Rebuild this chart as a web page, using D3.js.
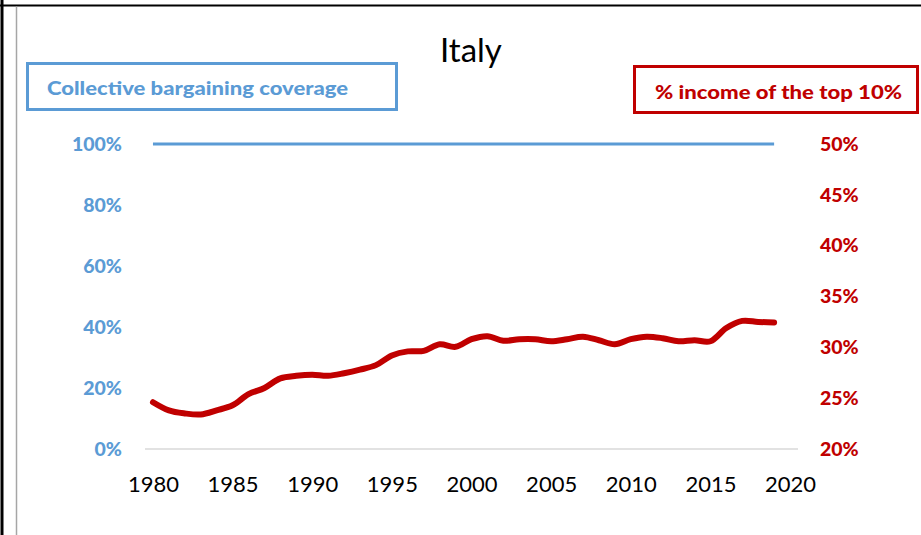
<!DOCTYPE html>
<html>
<head>
<meta charset="utf-8">
<script src="https://cdn.jsdelivr.net/npm/d3@7"></script>
<style>
  html, body { margin: 0; padding: 0; background: #fff; }
  svg { display: block; }
  text { font-family: Lato, "Open Sans", sans-serif; }
</style>
</head>
<body>
<svg id="chart" width="921" height="535"></svg>
<script>
// ---- data ----
const years = d3.range(1980, 2020);
const top10Share = [24.6, 23.8, 23.5, 23.4, 23.8, 24.3, 25.4, 26.0, 26.95, 27.2,
                     27.3, 27.2, 27.45, 27.8, 28.25, 29.2, 29.6, 29.65, 30.3, 30.05,
                     30.8, 31.1, 30.65, 30.8, 30.8, 30.6, 30.8, 31.05, 30.7, 30.3,
                     30.8, 31.05, 30.9, 30.6, 30.7, 30.6, 31.9, 32.6, 32.5, 32.45];
const coverage = years.map(() => 100);
const xTickYears = [1980, 1985, 1990, 1995, 2000, 2005, 2010, 2015, 2020];
const leftTicks = [0, 20, 40, 60, 80, 100];
const rightTicks = [20, 25, 30, 35, 40, 45, 50];

const title = "Italy";
const leftLegend = "Collective bargaining coverage";
const rightLegend = "% income of the top 10%";

const BLUE = "#5B9BD5";
const RED = "#C00000";

const svg = d3.select("#chart");

// frame lines
svg.append("line").attr("x1", 0).attr("x2", 921).attr("y1", 5.5).attr("y2", 5.5)
  .attr("stroke", "#000").attr("stroke-width", 2);
svg.append("line").attr("x1", 2).attr("x2", 2).attr("y1", 0).attr("y2", 535)
  .attr("stroke", "#000").attr("stroke-width", 3);
svg.append("line").attr("x1", 16.5).attr("x2", 16.5).attr("y1", 6.5).attr("y2", 535)
  .attr("stroke", "#a6a6a6").attr("stroke-width", 1.5);

// scales
const x = d3.scaleLinear().domain([1979.5, 2020.5]).range([145, 798]);
const yL = d3.scaleLinear().domain([0, 100]).range([449, 144]);
const yR = d3.scaleLinear().domain([20, 50]).range([449, 144]);

// baseline gridline
svg.append("line").attr("x1", x(1979.5)).attr("x2", x(2020.5))
  .attr("y1", yL(0)).attr("y2", yL(0))
  .attr("stroke", "#d9d9d9").attr("stroke-width", 1.5);

// axes
const xAxis = svg.append("g").attr("transform", `translate(0,${yL(0)})`)
  .call(d3.axisBottom(x).tickValues(xTickYears).tickFormat(d3.format("d")).tickSize(0).tickPadding(27));
xAxis.select(".domain").remove();
xAxis.selectAll("text").attr("font-size", 22).attr("fill", "#000")
  .style("font-family", "Lato, sans-serif");

const lAxis = svg.append("g").attr("transform", `translate(122,0)`)
  .call(d3.axisLeft(yL).tickValues(leftTicks).tickFormat(d => d + "%").tickSize(0).tickPadding(0));
lAxis.select(".domain").remove();
lAxis.selectAll("text").attr("font-size", 19.5).attr("font-weight", "900").attr("fill", BLUE);

const rAxis = svg.append("g").attr("transform", `translate(820,0)`)
  .call(d3.axisRight(yR).tickValues(rightTicks).tickFormat(d => d + "%").tickSize(0).tickPadding(0));
rAxis.select(".domain").remove();
rAxis.selectAll("text").attr("font-size", 19.5).attr("font-weight", "900").attr("fill", RED);

// lines
svg.append("path").datum(coverage.map((v, i) => [years[i], v]))
  .attr("fill", "none").attr("stroke", BLUE).attr("stroke-width", 3)
  .attr("d", d3.line().x(d => x(d[0])).y(d => yL(d[1])));

svg.append("path").datum(top10Share.map((v, i) => [years[i], v]))
  .attr("fill", "none").attr("stroke", RED).attr("stroke-width", 6)
  .attr("stroke-linecap", "round").attr("stroke-linejoin", "round")
  .attr("d", d3.line().curve(d3.curveCatmullRom.alpha(0.5)).x(d => x(d[0])).y(d => yR(d[1])));

// title
svg.append("text").attr("x", 471).attr("y", 62).attr("text-anchor", "middle")
  .attr("font-size", 33).attr("fill", "#000").text(title);

// legends
svg.append("rect").attr("x", 27.5).attr("y", 63.5).attr("width", 369).attr("height", 46)
  .attr("fill", "none").attr("stroke", BLUE).attr("stroke-width", 3);
svg.append("text").attr("x", 47).attr("y", 95).attr("font-size", 19.5).attr("font-weight", "900")
  .attr("fill", BLUE).attr("textLength", 301).attr("lengthAdjust", "spacingAndGlyphs").text(leftLegend);

svg.append("rect").attr("x", 634.5).attr("y", 66.5).attr("width", 283).attr("height", 46)
  .attr("fill", "none").attr("stroke", RED).attr("stroke-width", 3);
svg.append("text").attr("x", 655).attr("y", 99).attr("font-size", 19.5).attr("font-weight", "900")
  .attr("fill", RED).attr("textLength", 247).attr("lengthAdjust", "spacingAndGlyphs").text(rightLegend);
</script>
</body>
</html>
